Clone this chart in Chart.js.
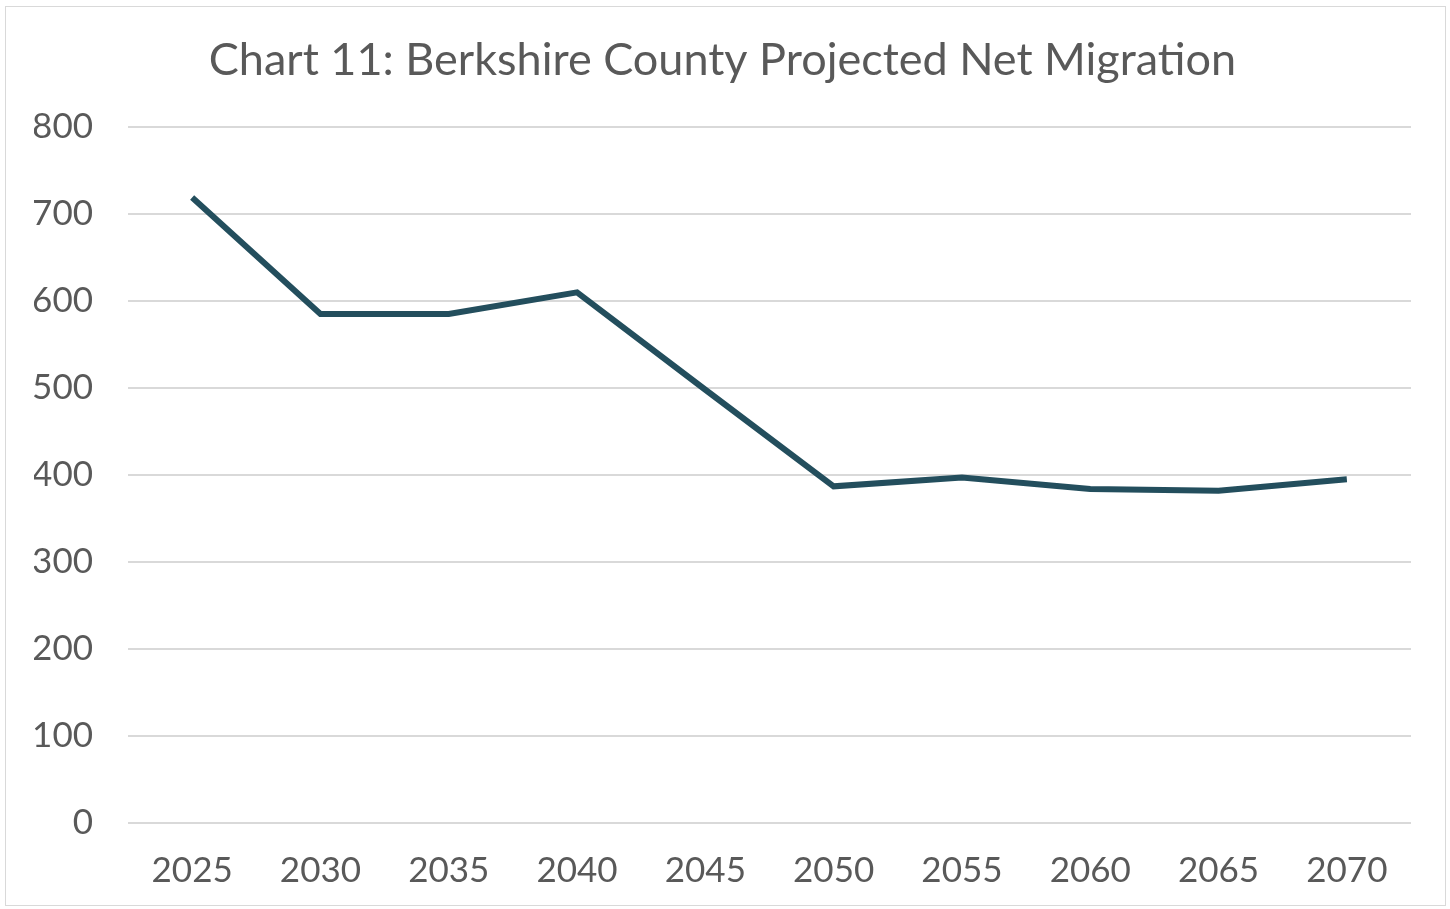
<!DOCTYPE html>
<html>
<head>
<meta charset="utf-8">
<script src="https://cdn.jsdelivr.net/npm/chart.js@4"></script>
<style>
  body { margin: 0; background: #fff; }
  #box {
    position: absolute; left: 5px; top: 6px;
    width: 1441px; height: 900px;
    border: 1px solid #d9d9d9; box-sizing: border-box;
  }
</style>
</head>
<body>
<div id="box"><canvas id="migration_chart"></canvas></div>
<script>
var years = ["2025", "2030", "2035", "2040", "2045", "2050", "2055", "2060", "2065", "2070"];
var netMigration = [719, 585, 585, 610, 498, 387, 397, 384, 382, 395];
var yTicks = [0, 100, 200, 300, 400, 500, 600, 700, 800];

var textColor = "#595959";
var fontName = "Lato, 'Open Sans', sans-serif";

var config = {
  type: "line",
  data: {
    labels: years,
    datasets: [
      {
        label: "Net Migration",
        data: netMigration,
        borderColor: "#234e5d",
        borderWidth: 6,
        pointRadius: 0,
        tension: 0,
        fill: false,
      },
    ],
  },
  options: {
    responsive: true,
    maintainAspectRatio: false,
    animation: false,
    layout: { padding: { left: 28, right: 34, top: 14, bottom: -14 } },
    plugins: {
      legend: { display: false },
      tooltip: { enabled: false },
      title: {
        display: true,
        text: "Chart 11: Berkshire County Projected Net Migration",
        color: textColor,
        font: { family: fontName, size: 45, weight: "normal" },
        padding: { top: 12, bottom: 40 },
      },
    },
    scales: {
      x: {
        offset: true,
        grid: { display: false, drawTicks: false },
        border: { display: false },
        ticks: {
          color: textColor,
          font: { family: fontName, size: 35 },
          padding: 27,
          maxRotation: 0,
        },
      },
      y: {
        min: 0,
        max: 800,
        afterBuildTicks: function (axis) {
          axis.ticks = yTicks.map(function (v) { return { value: v }; });
        },
        afterFit: function (axis) {
          axis.width = 94;
        },
        grid: { color: "#d9d9d9", lineWidth: 2, drawTicks: false },
        border: { display: false },
        ticks: {
          color: textColor,
          font: { family: fontName, size: 35 },
          padding: 35,
        },
      },
    },
  },
};

var migration_chart = new Chart(document.getElementById("migration_chart"), config);
</script>
</body>
</html>
